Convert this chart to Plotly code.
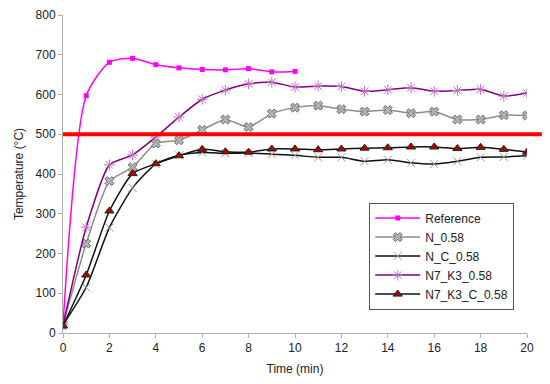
import plotly.graph_objects as go

time_ref = [0, 1, 2, 3, 4, 5, 6, 7, 8, 9, 10]
temp_ref = [20, 597, 681, 691, 675, 667, 663, 662, 665, 657, 658]

time_all = list(range(0, 21))
temp_n058 = [20, 225, 382, 417, 477, 485, 511, 537, 518, 552, 567, 572, 563, 557, 561, 553, 557, 537, 537, 548, 547]
temp_nc058 = [20, 115, 265, 365, 425, 447, 454, 452, 453, 450, 447, 442, 442, 432, 436, 428, 425, 432, 442, 443, 446]
temp_n7k3 = [20, 266, 423, 448, 493, 543, 588, 611, 627, 631, 619, 621, 620, 608, 612, 617, 608, 610, 613, 596, 604]
temp_n7k3c = [18, 146, 307, 401, 426, 446, 462, 456, 455, 463, 463, 461, 463, 465, 466, 468, 468, 464, 467, 462, 455]

threshold = 500

x_ticks = [0, 2, 4, 6, 8, 10, 12, 14, 16, 18, 20]
y_ticks = [0, 100, 200, 300, 400, 500, 600, 700, 800]

fig = go.Figure()

fig.add_trace(go.Scatter(
    x=time_ref, y=temp_ref, name="Reference", mode="lines+markers",
    line=dict(color="#ff00ff", width=1.5, shape="spline", smoothing=0.7),
    marker=dict(symbol="square", size=5, color="#ff00ff"),
))
fig.add_trace(go.Scatter(
    x=time_all, y=temp_n058, name="N_0.58", mode="lines+markers",
    line=dict(color="#8c8c8c", width=1.5, shape="spline", smoothing=0.6),
    marker=dict(symbol="x", size=8, color="#b0b0b0", line=dict(color="#707070", width=1)),
))
fig.add_trace(go.Scatter(
    x=time_all, y=temp_nc058, name="N_C_0.58", mode="lines+markers",
    line=dict(color="#111111", width=1.5, shape="spline", smoothing=0.6),
    marker=dict(symbol="x-thin-open", size=8, color="#999999", line=dict(color="#999999", width=1)),
))
fig.add_trace(go.Scatter(
    x=time_all, y=temp_n7k3, name="N7_K3_0.58", mode="lines+markers",
    line=dict(color="#800080", width=1.5, shape="spline", smoothing=0.6),
    marker=dict(symbol="asterisk-open", size=9, color="#c070c8", line=dict(color="#c070c8", width=1)),
))
fig.add_trace(go.Scatter(
    x=time_all, y=temp_n7k3c, name="N7_K3_C_0.58", mode="lines+markers",
    line=dict(color="#111111", width=1.5, shape="spline", smoothing=0.6),
    marker=dict(symbol="triangle-up", size=8, color="#b00000", line=dict(color="#222222", width=1)),
))

fig.add_shape(type="line", xref="paper", yref="y", x0=0, x1=1.032, y0=threshold, y1=threshold,
              line=dict(color="#ff0000", width=4))

fig.update_layout(
    width=550, height=384,
    margin=dict(l=55, r=31, t=7, b=59),
    paper_bgcolor="white", plot_bgcolor="white",
    font=dict(family="Liberation Sans, Arial", size=12, color="#222222"),
    showlegend=True,
    legend=dict(
        x=0.66, y=0.41, xanchor="left", yanchor="top",
        bordercolor="#555555", borderwidth=1, bgcolor="white",
        font=dict(size=12, color="#222222"),
        tracegroupgap=0, itemwidth=45,
    ),
)
fig.update_xaxes(
    range=[0, 20], tickvals=x_ticks, ticktext=[str(v) for v in x_ticks],
    showgrid=False, zeroline=False, showline=True, linecolor="#b0b0b0", linewidth=1,
    ticks="outside", ticklen=4, tickcolor="#b0b0b0", automargin=False,
    ticklabeloverflow="allow",
    title=dict(text="Time (min)", standoff=10, font=dict(size=12)),
    tickfont=dict(size=12),
)
fig.update_yaxes(
    range=[0, 800], tickvals=y_ticks, ticktext=[str(v) for v in y_ticks],
    showgrid=False, zeroline=False, showline=True, linecolor="#b0b0b0", linewidth=1,
    ticks="outside", ticklen=4, tickcolor="#b0b0b0", automargin=False,
    ticklabeloverflow="allow",
    title=dict(text="Temperature (°C)", standoff=9, font=dict(size=12)),
    tickfont=dict(size=12),
)

fig.write_html("out.html")
